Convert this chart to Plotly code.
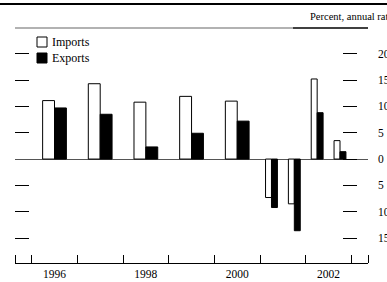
import plotly.graph_objects as go

# Data
periods = ["1996", "1997", "1998", "1999", "2000", "2001H1", "2001H2", "2002H1", "2002H2"]
imports = [11.1, 14.3, 10.8, 11.9, 11.0, -7.3, -8.5, 15.2, 3.5]
exports = [9.7, 8.5, 2.3, 4.9, 7.2, -9.2, -13.6, 8.8, 1.4]
series_names = ["Imports", "Exports"]
year_labels = ["1996", "1998", "2000", "2002"]
y_ticks = [20, 15, 10, 5, 0, -5, -10, -15]
y_tick_text = ["20", "15", "10", "5", "0", "5", "10", "15"]


def period_pos(p):
    year = int(p[:4])
    if p.endswith("H1"):
        return year + 0.25, 0.13
    if p.endswith("H2"):
        return year + 0.75, 0.13
    return year + 0.5, 0.26


xs = [period_pos(p)[0] for p in periods]
ws = [period_pos(p)[1] for p in periods]

FONT = "Liberation Serif"
W, H = 387, 282
ML, MR, MT, MB = 15, 19, 40, 19
PW, PH = W - ML - MR, H - MT - MB


def px_x(px):
    return (px - ML) / PW


def px_y(py):
    return 1 - (py - MT) / PH


fills = ["white", "black"]

fig = go.Figure()
fig.add_trace(go.Bar(
    x=xs, y=imports, width=ws, offset=[-w for w in ws], name=series_names[0],
    marker=dict(color=fills[0], line=dict(color="black", width=1)), showlegend=False,
))
fig.add_trace(go.Bar(
    x=xs, y=exports, width=ws, offset=[0 for w in ws], name=series_names[1],
    marker=dict(color=fills[1], line=dict(color="black", width=1)), showlegend=False,
))
fig.add_trace(go.Scatter(x=[xs[0]], y=[0], yaxis="y2", mode="markers",
                         marker=dict(opacity=0), showlegend=False, hoverinfo="skip"))

years = sorted(set(int(p[:4]) for p in periods))
boundaries = years + [years[-1] + 1]
x_lo, x_hi = years[0] - 0.365, years[-1] + 1 + 0.363
y_lo, y_hi = -19.73, 22.6

fig.update_layout(
    width=W, height=H,
    margin=dict(l=ML, r=MR, t=MT, b=MB, autoexpand=False),
    paper_bgcolor="white", plot_bgcolor="white",
    showlegend=False,
    barmode="overlay",
    xaxis=dict(
        range=[x_lo, x_hi], showgrid=False, zeroline=False, automargin=False,
        showline=True, linecolor="black", linewidth=1.3,
        tickmode="array", tickvals=[int(y) + 0.5 for y in year_labels],
        ticktext=year_labels, ticks="", ticklen=0,
        tickfont=dict(family=FONT, size=11.5, color="black"),
        minor=dict(tickmode="array", tickvals=[x_lo] + boundaries + [x_hi],
                   ticks="inside", ticklen=8, tickcolor="black", tickwidth=1),
    ),
    yaxis=dict(
        range=[y_lo, y_hi], showgrid=False, zeroline=True, automargin=False,
        zerolinecolor="#555555", zerolinewidth=1.3, showline=False,
        tickmode="array", tickvals=[v for v in y_ticks if v != 0],
        ticks="inside", ticklen=14, tickcolor="black", tickwidth=1,
        showticklabels=False,
    ),
    yaxis2=dict(
        range=[y_lo, y_hi], overlaying="y", side="right", anchor="free",
        position=px_x(357), showgrid=False, zeroline=False, automargin=False,
        showline=False, tickmode="array", tickvals=y_ticks,
        ticktext=y_tick_text, ticks="inside", ticklen=14,
        tickcolor="black", tickwidth=1, ticklabelstandoff=20,
        tickfont=dict(family=FONT, size=11.5, color="black"),
    ),
)

# manual legend
for i, (name, fill) in enumerate(zip(series_names, fills)):
    top = 37 + i * 16
    fig.add_shape(type="rect", xref="paper", yref="paper",
                  x0=px_x(37), x1=px_x(47), y0=px_y(top), y1=px_y(top + 10),
                  fillcolor=fill, line=dict(color="black", width=1))
    fig.add_annotation(text=name, xref="paper", yref="paper",
                       x=px_x(50), y=px_y(top + 5), xanchor="left", yanchor="middle",
                       showarrow=False, font=dict(family=FONT, size=12, color="black"))

# header lines and note
fig.add_shape(type="line", xref="paper", yref="paper",
              x0=px_x(0), x1=px_x(W), y0=px_y(4), y1=px_y(4),
              line=dict(color="black", width=2))
fig.add_shape(type="line", xref="paper", yref="paper",
              x0=px_x(15), x1=px_x(293), y0=px_y(28), y1=px_y(28),
              line=dict(color="#999999", width=1.5))
fig.add_shape(type="line", xref="paper", yref="paper",
              x0=px_x(293), x1=px_x(368), y0=px_y(28), y1=px_y(28),
              line=dict(color="black", width=1.5))
fig.add_annotation(text="Percent, annual rate", xref="paper", yref="paper",
                   x=px_x(308), y=px_y(17), xanchor="left", yanchor="middle",
                   showarrow=False, font=dict(family=FONT, size=10.5, color="black"))

fig.write_html("out.html", config={"displayModeBar": False},
               post_script="document.body.style.margin='0';document.body.style.overflow='hidden';")
